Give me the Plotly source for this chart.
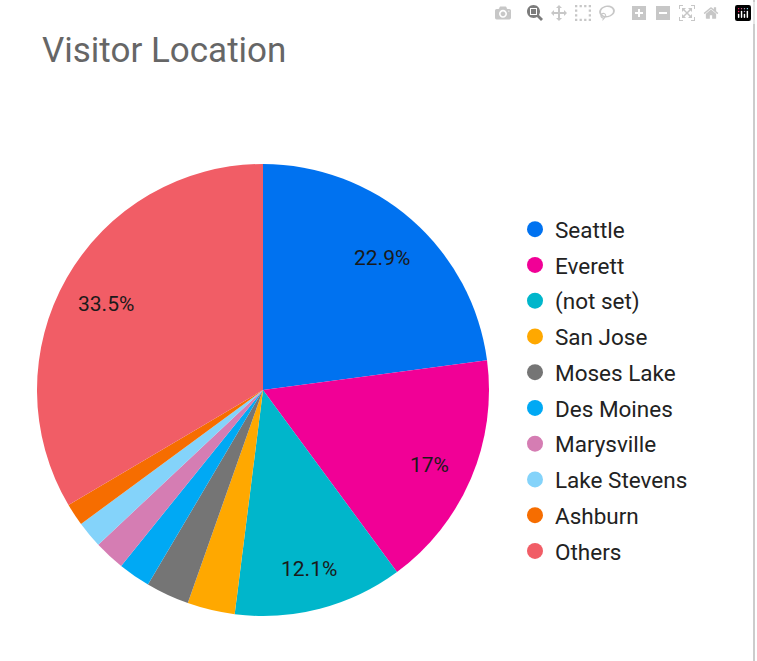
import math
import plotly.graph_objects as go

locations = ["Seattle", "Everett", "(not set)", "San Jose", "Moses Lake",
             "Des Moines", "Marysville", "Lake Stevens", "Ashburn", "Others"]
shares = [22.9, 17.0, 12.1, 3.4, 3.1, 2.3, 2.2, 1.9, 1.6, 33.5]
colors = ["#0072f0", "#f10096", "#00b6cb", "#ffa800", "#757575",
          "#00a9f4", "#d57db3", "#84d3fa", "#f66d00", "#f15d66"]
labels_text = [f"{v:g}%" if v >= 5 else "" for v in shares]

W, H = 757, 661
CX, CY, R = 263, 390, 226

fig = go.Figure()
fig.add_trace(go.Pie(
    labels=locations, values=shares, sort=False, direction="clockwise",
    rotation=0, marker=dict(colors=colors, line=dict(width=0)),
    textinfo="none", hoverinfo="label+percent", showlegend=False,
    domain=dict(x=[(CX - R) / W, (CX + R) / W],
                y=[1 - (CY + R) / H, 1 - (CY - R) / H]),
))

total = sum(shares)
cum = 0.0
annotations = []
for v, t in zip(shares, labels_text):
    mid = (cum + v / 2) / total * 2 * math.pi
    cum += v
    if not t:
        continue
    rr = 0.8 * R
    px = CX + rr * math.sin(mid)
    py = CY - rr * math.cos(mid) + 4
    annotations.append(dict(
        text=t, x=px / W, y=1 - py / H, xref="paper", yref="paper",
        showarrow=False, xanchor="center", yanchor="middle",
        font=dict(family="Roboto", size=21, color="#1a1a1a")))

for name, col in zip(locations, colors):
    fig.add_trace(go.Scatter(
        x=[None], y=[None], mode="markers", name=name, legendgroup=name,
        marker=dict(symbol="circle", size=20, color=col),
    ))

fig.update_layout(
    width=W, height=H, margin=dict(l=0, r=0, t=0, b=0),
    paper_bgcolor="white", plot_bgcolor="white",
    xaxis=dict(visible=False), yaxis=dict(visible=False),
    title=dict(text="Visitor Location", x=42 / W, xanchor="left",
               y=1 - 50 / H, yanchor="middle",
               font=dict(family="Roboto", size=35, color="#666666")),
    legend=dict(x=515 / W, xanchor="left", y=1 - 208 / H,
                yanchor="top",
                font=dict(family="Roboto", size=22.5, color="#222222"),
                tracegroupgap=3.5, itemsizing="trace", bgcolor="rgba(0,0,0,0)"),
    shapes=[dict(type="line", xref="paper", yref="paper",
                 x0=754 / W, x1=754 / W, y0=0, y1=1,
                 line=dict(color="#cccccc", width=2))],
    annotations=annotations,
    font=dict(family="Roboto"),
)
fig.write_html(
    "out.html",
    default_width=f"{W}px", default_height=f"{H}px",
    post_script=("document.body.style.margin='0';"
                 "document.documentElement.style.overflow='hidden';"
                 "document.body.style.overflow='hidden';"))
